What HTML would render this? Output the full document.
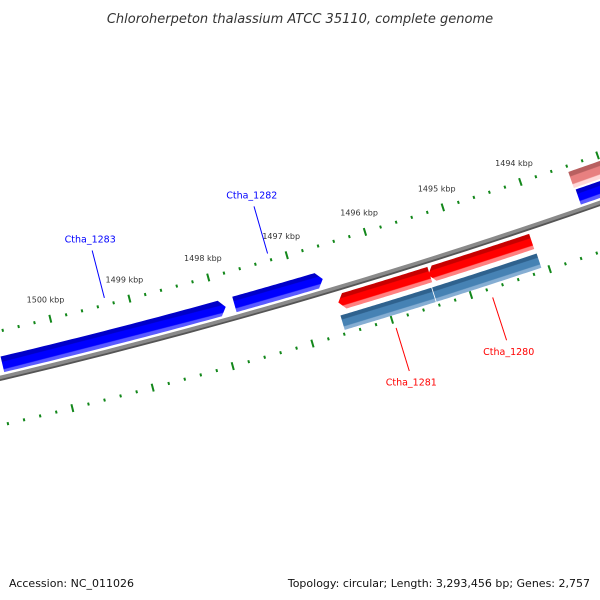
<!DOCTYPE html>
<html><head><meta charset="utf-8"><style>
html,body{margin:0;padding:0;background:#fff;}
svg{display:block;}
</style></head><body>
<svg id="map" width="600" height="600" viewBox="0 0 600 600" xmlns="http://www.w3.org/2000/svg">
<defs id="defs"></defs>
<rect width="600" height="600" fill="#fff"/>
<text x="300" y="23" text-anchor="middle" font-family="DejaVu Sans, sans-serif" font-style="italic" font-size="13" fill="#333">Chloroherpeton thalassium ATCC 35110, complete genome</text>
<g id="plot"></g>
<text x="9" y="587" font-family="DejaVu Sans, sans-serif" font-size="11" fill="#111">Accession: NC_011026</text>
<text x="590" y="587" text-anchor="end" font-family="DejaVu Sans, sans-serif" font-size="11" fill="#111">Topology: circular; Length: 3,293,456 bp; Genes: 2,757</text>
</svg>
<script>
// ---- data ----
var geneNames   = ["Ctha_1283","Ctha_1282","Ctha_1281","Ctha_1280","cds_1281","cds_1280","gene_1279","cds_1279"];
var geneStarts  = [1497890,1496660,1495400,1494100,1495430,1494090,1492000,1492000];
var geneEnds    = [1500700,1497780,1496560,1495420,1496580,1495420,1493390,1493405];
var geneStrand  = [1,1,-1,-1,0,0,1,2];
var geneLabeled = [true,true,true,true,false,false,false,false];
var tickStart = 1492000, tickEnd = 1502000, minorStep = 200, majorStep = 1000;
var tickLabelKbp = [1494,1495,1496,1497,1498,1499,1500];

// ---- scale (circle geometry) ----
var CX=-1374, CY=-5450, R0=5988;
var REF_BP=1497000, REF_DEG=73.77, DEG_PER_KBP=0.787;
function ang(bp){return (REF_DEG+(bp-REF_BP)/1000*DEG_PER_KBP)*Math.PI/180;}
function pt(bp,r){var a=ang(bp);return [CX+r*Math.cos(a),CY+r*Math.sin(a)];}
function f(p){return p[0].toFixed(2)+","+p[1].toFixed(2);}
var NS="http://www.w3.org/2000/svg";
var plot=document.getElementById('plot'), defs=document.getElementById('defs');
function mk(tag,attrs,parent){var e=document.createElementNS(NS,tag);for(var k in attrs)e.setAttribute(k,attrs[k]);(parent||plot).appendChild(e);return e;}
function arcPath(b1,b2,r){var d="";var n=40;for(var i=0;i<=n;i++){var b=b1+(b2-b1)*i/n;d+=(i?"L":"M")+f(pt(b,r));}return d;}

// backbone
var bb=mk('path',{d:arcPath(1490000,1503000,R0+1.5),fill:'none',stroke:'#555',"stroke-width":2.5});


var bb2=mk('path',{d:arcPath(1490000,1503000,R0-0.8),fill:'none',stroke:'#8a8a8a',"stroke-width":3.5});



// ticks
var rings=[R0-46,R0+46];
rings.forEach(function(rr,ri){
  for(var b=tickStart;b<=tickEnd;b+=minorStep){
    var major=(b%majorStep===0);
    var h=major?4:1.5;
    var t=mk('line',{});
    var p1=pt(b,rr-h),p2=pt(b,rr+h);
    t.setAttribute('x1',p1[0]);t.setAttribute('y1',p1[1]);t.setAttribute('x2',p2[0]);t.setAttribute('y2',p2[1]);
    t.setAttribute('stroke','#12871a');t.setAttribute('stroke-width',2);
    
    
  }
});
tickLabelKbp.forEach(function(k){
  var p=pt(k*1000,R0-66);
  var t=mk('text',{x:p[0].toFixed(1),y:(p[1]+3).toFixed(1),"text-anchor":"middle","font-family":"DejaVu Sans, sans-serif","font-size":"8",fill:"#333"});
  t.textContent=k+" kbp";
  
  
});

// genes
var styles={
  "1":{r1:R0-21,r2:R0-5,c:['#0000c8','#0000ff','#5a5aff']},
  "-1":{r1:R0+6,r2:R0+22,c:['#c80000','#ff0000','#ff8080']},
  "0":{r1:R0+27,r2:R0+42,c:['#2f628e','#4682b4','#86aed3']},
  "2":{r1:R0-40,r2:R0-23,c:['#b86060','#e88080','#ffd8d8']}
};
var HEAD=75;
for(var i=0;i<geneNames.length;i++){
  var s=styles[String(geneStrand[i])], a=geneStarts[i], e=geneEnds[i];
  var gid='g'+i, mid=(a+e)/2;
  var p1=pt(mid,s.r1),p2=pt(mid,s.r2);
  var lg=mk('linearGradient',{id:gid,gradientUnits:'userSpaceOnUse',x1:p1[0],y1:p1[1],x2:p2[0],y2:p2[1]},defs);
  [[0,s.c[0]],[0.25,s.c[0]],[0.3,s.c[1]],[0.72,s.c[1]],[0.78,s.c[2]],[1,s.c[2]]].forEach(function(st){mk('stop',{offset:st[0],"stop-color":st[1]},lg);});
  var rm=(s.r1+s.r2)/2, d;
  if(geneStrand[i]===1 && a>1492500){ // head at low bp (pointing right)
    d=arcPath(a+HEAD,e,s.r1)+"L"+f(pt(e,s.r2))+arcPath(e,a+HEAD,s.r2).replace(/^M/,"L")+"L"+f(pt(a,rm))+"Z";
  } else if(geneStrand[i]===-1){ // head at high bp (pointing left)
    d=arcPath(a,e-HEAD,s.r1)+"L"+f(pt(e,rm))+"L"+f(pt(e-HEAD,s.r2))+arcPath(e-HEAD,a,s.r2).replace(/^M/,"L")+"Z";
  } else {
    d=arcPath(a,e,s.r1)+arcPath(e,a,s.r2).replace(/^M/,"L")+"Z";
  }
  var g=mk('path',{d:d,fill:'url(#'+gid+')'});
  
  
  if(geneLabeled[i]){
    var col=geneStrand[i]===1?'#0000ff':'#ff0000';
    var lr1,lr2,tr;
    if(geneStrand[i]===1){lr1=R0-53;lr2=R0-102;tr=R0-110;}else{lr1=R0+55;lr2=R0+100;tr=R0+107;}
    var q1=pt(mid,lr1),q2=pt(mid,lr2),q3=pt(mid,tr);
    var ln=mk('line',{x1:q1[0],y1:q1[1],x2:q2[0],y2:q2[1],stroke:col,"stroke-width":1});
    
    
    var tx=mk('text',{x:q3[0].toFixed(1),y:(q3[1]+(geneStrand[i]===1?0:8)).toFixed(1),"text-anchor":"middle","font-family":"DejaVu Sans, sans-serif","font-size":"9.5",fill:col});
    tx.textContent=geneNames[i];
    
    
  }
}
</script>
</body></html>
